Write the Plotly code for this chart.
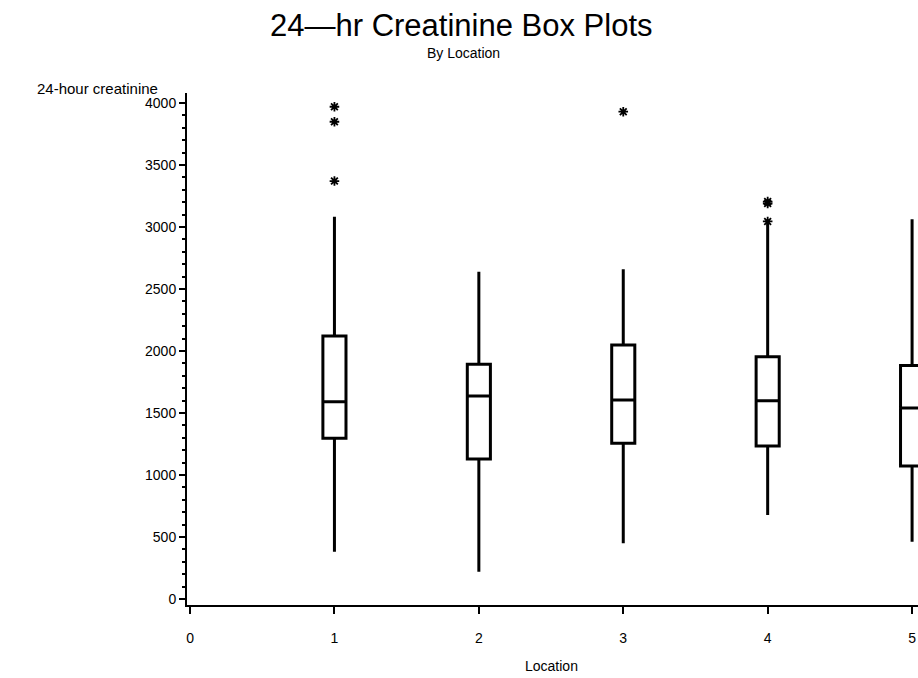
import plotly.graph_objects as go

# ---- data ----
locations = [1, 2, 3, 4, 5]
q1_vals = [1296, 1129, 1256, 1234, 1073]
median_vals = [1591, 1637, 1605, 1599, 1540]
q3_vals = [2121, 1893, 2048, 1954, 1884]
lower_whisker = [382, 220, 449, 677, 462]
upper_whisker = [3083, 2640, 2659, 3030, 3062]

outlier_loc = [1, 1, 1, 3, 4, 4, 4]
outlier_val = [3970, 3849, 3371, 3930, 3205, 3190, 3045]

x_ticks = [0, 1, 2, 3, 4, 5]
y_ticks = [0, 500, 1000, 1500, 2000, 2500, 3000, 3500, 4000]

FONT = "Liberation Sans, Arial, Helvetica, sans-serif"

fig = go.Figure()
fig.add_trace(go.Box(
    x=locations, q1=q1_vals, median=median_vals, q3=q3_vals,
    lowerfence=lower_whisker, upperfence=upper_whisker,
    width=0.16, whiskerwidth=0, fillcolor="white",
    line=dict(color="black", width=3), boxpoints=False,
    showlegend=False, hoverinfo="skip",
))
fig.add_trace(go.Scatter(
    x=outlier_loc, y=outlier_val, mode="markers",
    marker=dict(symbol="asterisk-open", size=8, color="black",
                line=dict(color="black", width=1.8)),
    showlegend=False, hoverinfo="skip", cliponaxis=False,
))

fig.update_layout(
    width=918, height=678,
    margin=dict(l=187, r=0, t=93, b=73, autoexpand=False),
    paper_bgcolor="white", plot_bgcolor="white",
    font=dict(family=FONT, color="black", size=14),
    xaxis=dict(
        range=[-0.021, 5.041], tickvals=x_ticks, ticktext=[str(v) for v in x_ticks],
        ticks="outside", ticklen=7, tickwidth=2, tickcolor="black",
        showline=True, linewidth=2, linecolor="black",
        showgrid=False, zeroline=False, ticklabelstandoff=12,
        automargin=False, tickfont=dict(size=14, family=FONT),
    ),
    yaxis=dict(
        range=[-48, 4081], tickvals=y_ticks, ticktext=[str(v) for v in y_ticks],
        ticks="outside", ticklen=6, tickwidth=2, tickcolor="black",
        minor=dict(dtick=100, tick0=0, ticks="outside", ticklen=3, tickwidth=1.5,
                   tickcolor="black"),
        showline=True, linewidth=2, linecolor="black",
        showgrid=False, zeroline=False, automargin=False,
        tickfont=dict(size=14, family=FONT),
    ),
    annotations=[
        dict(text="24\u2014hr Creatinine Box Plots", xref="paper", yref="paper",
             x=(461 - 187) / 731, y=(605 - 25) / 512, xanchor="center", yanchor="middle",
             showarrow=False, font=dict(size=31, family=FONT)),
        dict(text="By Location", xref="paper", yref="paper",
             x=(463 - 187) / 731, y=(605 - 53) / 512, xanchor="center", yanchor="middle",
             showarrow=False, font=dict(size=14, family=FONT)),
        dict(text="24-hour creatinine", xref="paper", yref="paper",
             x=(97 - 187) / 731, y=(605 - 88) / 512, xanchor="center", yanchor="middle",
             showarrow=False, font=dict(size=15, family=FONT)),
        dict(text="Location", xref="paper", yref="paper",
             x=(551 - 187) / 731, y=(605 - 666) / 512, xanchor="center", yanchor="middle",
             showarrow=False, font=dict(size=14, family=FONT)),
    ],
)

fig.write_html(
    "out.html",
    config={"displayModeBar": False},
    post_script="document.body.style.margin='0';document.body.style.overflow='hidden';",
)
